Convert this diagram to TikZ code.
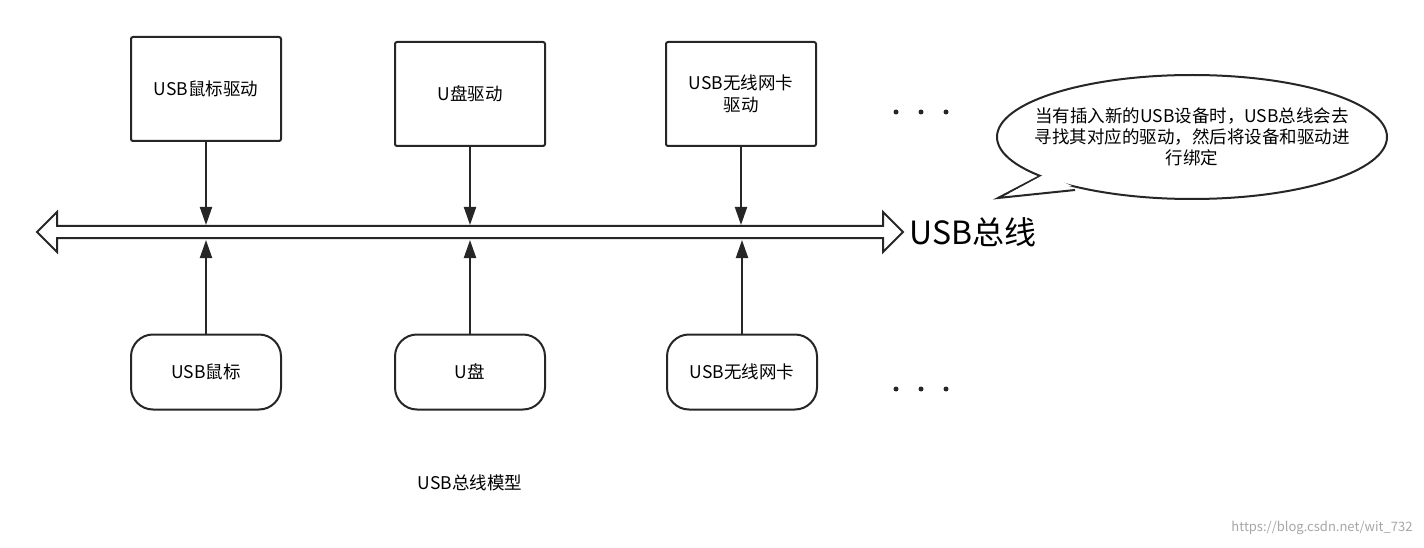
\documentclass[tikz,border=0pt]{standalone}
\usepackage{fontspec}
\setmainfont{Noto Sans CJK SC}
\usetikzlibrary{arrows.meta}
\begin{document}
\begin{tikzpicture}[x=1pt,y=-1pt,
  box/.style={draw=black!85,line width=2pt,fill=white,minimum width=150pt,align=center,font=\fontsize{17.5}{22}\selectfont},
  dev/.style={box,rounded corners=22pt,minimum height=75pt},
  drv/.style={box,rounded corners=2pt,minimum height=104pt},
  arr/.style={draw=black!85,line width=2pt,-{Triangle[length=18pt,width=12pt]}},
  dot/.style={circle,fill=black!85,inner sep=0pt,minimum size=5pt}]
\useasboundingbox (0,0) rectangle (1424,548);
\node[drv] (d1) at (206,89) {USB鼠标驱动};
\node[drv] (d2) at (470,94) {U盘驱动};
\node[drv] (d3) at (741,94) {USB无线网卡\\驱动};
\node[dev] (u1) at (206,372) {USB鼠标};
\node[dev] (u2) at (470,372) {U盘};
\node[dev] (u3) at (742,372) {USB无线网卡};
\draw[black!85,line width=2pt,fill=white,line join=miter]
 (37,232) -- (57,212) -- (57,226) -- (883,226) -- (883,212) -- (903,232) -- (883,252) -- (883,238) -- (57,238) -- (57,252) -- cycle;
\coordinate (t1) at (206,225); \coordinate (t2) at (470,225); \coordinate (t3) at (741,225);
\coordinate (b1) at (206,240); \coordinate (b2) at (470,240); \coordinate (b3) at (742,240);
\draw[arr] (d1) -- (t1); \draw[arr] (d2) -- (t2); \draw[arr] (d3) -- (t3);
\draw[arr] (u1) -- (b1); \draw[arr] (u2) -- (b2); \draw[arr] (u3) -- (b3);
\foreach \x in {896,921,946}{\node[dot] at (\x,112) {}; \node[dot] at (\x,389) {};}
\node[anchor=west,font=\fontsize{32}{36}\selectfont] (bus) at (906,232) {USB总线};
% callout
\draw[black!85,line width=2pt,fill=white] (1040,176) -- (998,198) -- (1075,190);
\draw[black!85,line width=2pt,fill=white] (1192,137) ellipse [x radius=195,y radius=62];
\fill[white] (1045,174) -- (1010,193) -- (1072,186) -- cycle;
\node[align=center,font=\fontsize{17.5}{21}\selectfont] (c) at (1192,137) {当有插入新的USB设备时，USB总线会去\\寻找其对应的驱动，然后将设备和驱动进\\行绑定};
\node[font=\fontsize{17.5}{22}\selectfont] (cap) at (470,483) {USB总线模型};
\node[anchor=east,text=black!35,font=\fontsize{13}{15}\selectfont] (wm) at (1416,528) {https://blog.csdn.net/wit\_732};
\end{tikzpicture}
\end{document}
